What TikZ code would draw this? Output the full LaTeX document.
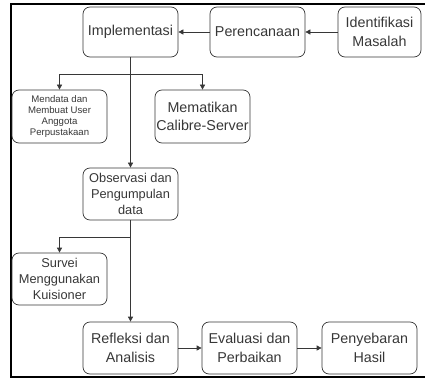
\documentclass[tikz,border=0pt]{standalone}
\usepackage{fontspec}
\setmainfont{Liberation Sans}
\usetikzlibrary{arrows.meta}
\definecolor{hgrey}{RGB}{55,55,55}
\tikzset{
  box/.style={draw=hgrey, line width=0.7pt, rounded corners=7pt, text=hgrey,
    minimum width=95pt, minimum height=52pt, inner xsep=1pt, align=center,
    font=\fontsize{14.3}{18.5}\selectfont},
  midtext/.style={font=\fontsize{12.8}{16}\selectfont},
  smalltext/.style={font=\fontsize{9.6}{11}\selectfont},
  link/.style={draw=hgrey, line width=0.7pt, -{Triangle[length=5pt,width=5pt]}}
}

\begin{document}
\begin{tikzpicture}[x=1pt,y=-1pt]
  \useasboundingbox (0,0) rectangle (425,382);
  \draw[line width=2pt] (425,4) -| (11,377) -- (425,377);
  % top row
  \node[box,minimum height=50pt] (impl) at (130.5,32) {Implementasi};
  \node[box,minimum height=50pt] (plan) at (257.5,32) {Perencanaan};
  \node[box,minimum height=50pt,minimum width=83pt] (iden) at (379.5,32) {Identifikasi\\Masalah};
  % implementation steps
  \node[box,smalltext,minimum height=53pt] (data) at (59.5,116.5) {Mendata dan\\Membuat User\\Anggota\\Perpustakaan};
  \node[box,minimum height=53pt] (mati) at (202.5,116.5) {Mematikan\\Calibre-Server};
  \node[box,midtext] (obs) at (130.5,194) {Observasi dan\\Pengumpulan\\data};
  \node[box,midtext] (surv) at (59.5,279) {Survei\\Menggunakan\\Kuisioner};
  % bottom row
  \node[box] (refl) at (130.5,348) {Refleksi dan\\Analisis};
  \node[box] (eval) at (249.5,348) {Evaluasi dan\\Perbaikan};
  \node[box] (seb) at (369.5,348) {Penyebaran\\Hasil};
  \coordinate (br1) at (130.5,74);
  \coordinate (br2) at (130.5,237);
  \draw[link] (iden) -- (plan);
  \draw[link] (plan) -- (impl);
  \draw[link] (impl) -- (obs);
  \draw[link] (br1) -| (data);
  \draw[link] (br1) -| (mati);
  \draw[link] (obs) -- (refl);
  \draw[link] (br2) -| (surv);
  \draw[link] (refl) -- (eval);
  \draw[link] (eval) -- (seb);
\end{tikzpicture}
\end{document}
